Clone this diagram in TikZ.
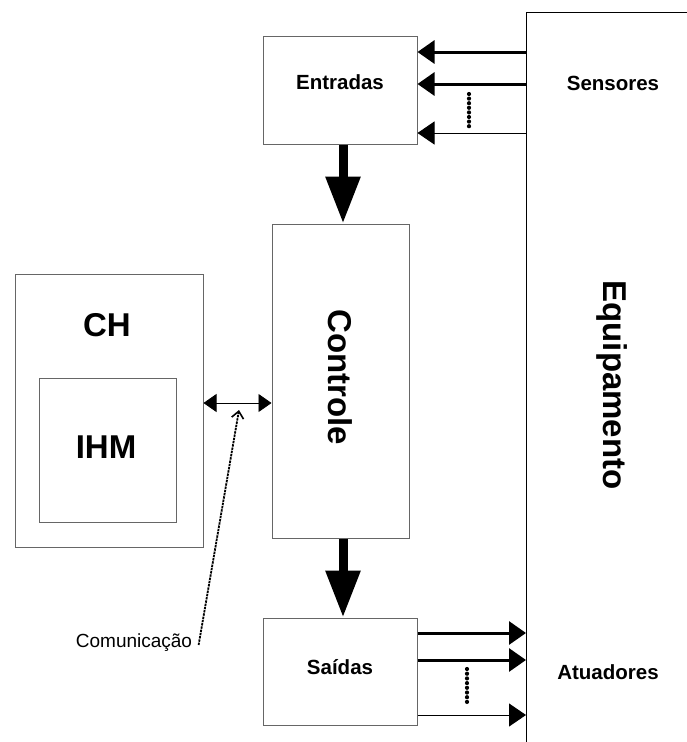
\documentclass[tikz,border=0pt]{standalone}
\usepackage{fontspec}
\setmainfont{Liberation Sans}
\usetikzlibrary{arrows.meta}
\begin{document}
\begin{tikzpicture}[x=1pt,y=-1pt,
  box/.style={draw=black!60, line width=1pt, inner sep=0pt, rectangle},
  bigtxt/.style={font=\fontsize{33}{33}\selectfont\bfseries},
  midtxt/.style={font=\fontsize{20.5}{20.5}\selectfont\bfseries},
  bigarr/.style={line width=9pt, -{Triangle[length=47pt,width=33pt]}},
  sarrow/.style={line width=3pt, -{Triangle[length=17pt,width=23pt]}},
  tarrow/.style={line width=1pt, -{Triangle[length=17pt,width=23pt]}},
  dotmark/.style={fill=black}
]
\useasboundingbox (0,0) rectangle (686,742);
% Equipamento
\node[draw=black, line width=1pt, inner sep=0pt, minimum width=300pt, minimum height=800pt, anchor=north west] (equip) at (526,12) {};
\node[bigtxt, rotate=-90] (equiptxt) at (612,385) {Equipamento};
\node[midtxt] (sens) at (613,83) {Sensores};
\node[midtxt] (atu) at (608,672) {Atuadores};
% Boxes
\node[box, minimum width=154pt, minimum height=108pt] (ent) at (340,90) {};
\node[midtxt] (enttxt) at (340,82) {Entradas};
\node[box, minimum width=137pt, minimum height=314pt] (ctrl) at (340.5,381) {};
\node[bigtxt, rotate=-90] (ctrltxt) at (340,377) {Controle};
\node[box, minimum width=154pt, minimum height=107pt] (sai) at (340,671.5) {};
\node[midtxt] (saitxt) at (340,667) {Saídas};
\node[box, minimum width=188pt, minimum height=273pt] (ch) at (109,410.5) {};
\node[bigtxt] (chtxt) at (107,325) {CH};
\node[box, minimum width=137pt, minimum height=144pt] (ihm) at (107.5,450) {};
\node[bigtxt] (ihmtxt) at (106,447) {IHM};
% vertical thick arrows
\draw[bigarr] (ent.south -| 343,0) -- (ctrl.north -| 343,0);
\draw[bigarr] (ctrl.south -| 343,0) -- (sai.north -| 343,0);
% sensor arrows
\draw[sarrow] (equip.west |- 0,52) -- (ent.east |- 0,52);
\draw[sarrow] (equip.west |- 0,84) -- (ent.east |- 0,84);
\draw[tarrow] (equip.west |- 0,133) -- (ent.east |- 0,133);
\foreach \k in {0,...,7} { \fill[dotmark] (469,{94+\k*4.6}) circle (2.1pt); }
% actuator arrows
\draw[sarrow] (sai.east |- 0,633) -- (equip.west |- 0,633);
\draw[sarrow] (sai.east |- 0,660) -- (equip.west |- 0,660);
\draw[tarrow] (sai.east |- 0,715) -- (equip.west |- 0,715);
\foreach \k in {0,...,7} { \fill[dotmark] (467,{669+\k*4.7}) circle (2.1pt); }
% communication
\draw[line width=0.8pt, {Triangle[length=13pt,width=18pt]}-{Triangle[length=13pt,width=18pt]}] (ch.east |- 0,403) -- (ctrl.west |- 0,403);
\node[font=\fontsize{19}{19}\selectfont, anchor=base] (com) at (134,647) {Comunicação};
\coordinate (comtip) at (239,410);
\draw[line width=1.8pt, dash pattern=on 2.4pt off 0.9pt, -{Straight Barb[length=7pt,width=12pt,line width=1.6pt]}] (com.base east) ++(3,-2) coordinate (comstart) -- (comtip);
\end{tikzpicture}
\end{document}
